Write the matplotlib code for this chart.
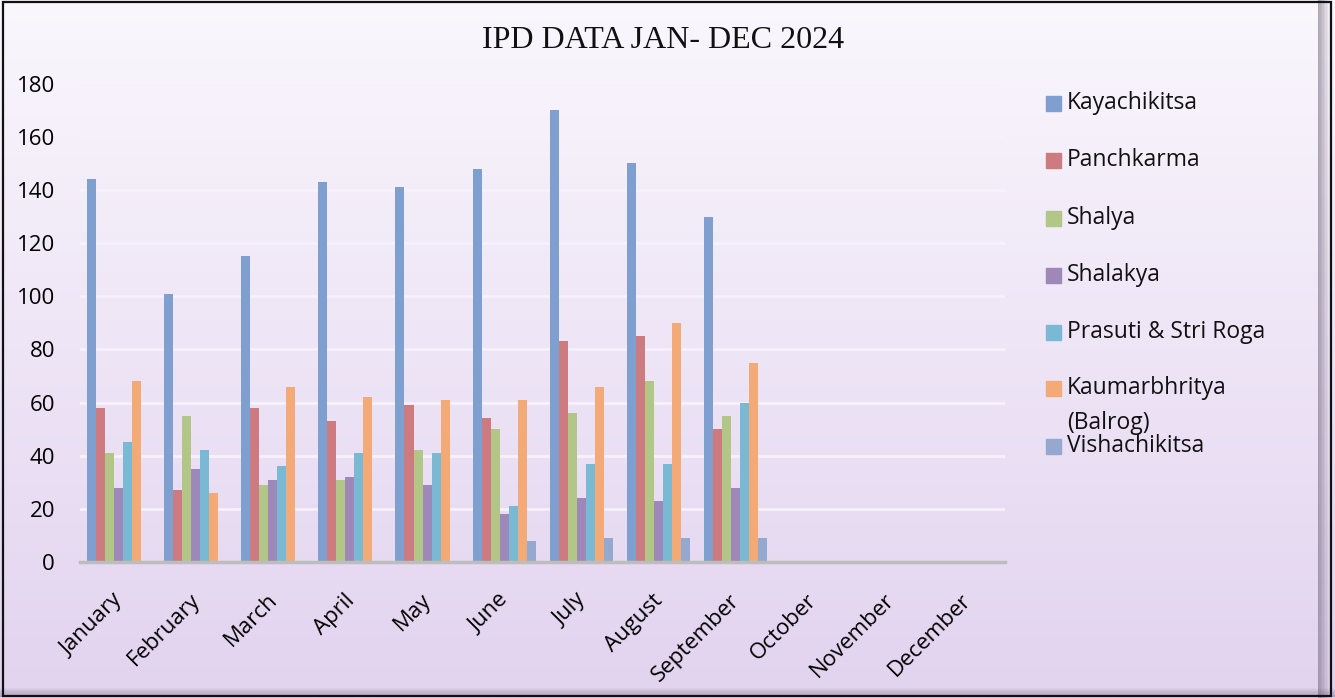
import matplotlib
matplotlib.use('Agg')
import matplotlib.pyplot as plt
import matplotlib.transforms as mtrans
import numpy as np
from matplotlib.patches import Rectangle
from matplotlib.colors import LinearSegmentedColormap

# dados IPD jan-dez 2024 (outubro a dezembro ainda sem dados)
meses = ['January', 'February', 'March', 'April', 'May', 'June', 'July',
         'August', 'September', 'October', 'November', 'December']
kayachikitsa = [144, 101, 115, 143, 141, 148, 170, 150, 130, 0, 0, 0]
panchkarma = [58, 27, 58, 53, 59, 54, 83, 85, 50, 0, 0, 0]
shalya = [41, 55, 29, 31, 42, 50, 56, 68, 55, 0, 0, 0]
shalakya = [28, 35, 31, 32, 29, 18, 24, 23, 28, 0, 0, 0]
prasuti = [45, 42, 36, 41, 41, 21, 37, 37, 60, 0, 0, 0]
kaumar = [68, 26, 66, 62, 61, 61, 66, 90, 75, 0, 0, 0]
vishachikitsa = [0, 0, 0, 0, 0, 8, 9, 9, 9, 0, 0, 0]

series = [kayachikitsa, panchkarma, shalya, shalakya, prasuti, kaumar, vishachikitsa]
nomes = ['Kayachikitsa', 'Panchkarma', 'Shalya', 'Shalakya', 'Prasuti & Stri Roga',
         'Kaumarbhritya', 'Vishachikitsa']
cores = ['#7f9fd0', '#cd7a80', '#b2c687', '#9e87b9', '#79b9d3', '#f3aa76', '#94a8d0']

fig = plt.figure(figsize=(13.35, 6.98), dpi=100)

# fundo em degradê (branco -> lilás)
bg = fig.add_axes([0, 0, 1, 1], zorder=0)
grad = np.linspace(0, 1, 256).reshape(-1, 1)
cmap_bg = LinearSegmentedColormap.from_list('bg', ['#faf7fd', '#e2d3ef'])
bg.imshow(grad, aspect='auto', cmap=cmap_bg, extent=[0, 1, 0, 1], origin='upper')
bg.set_xlim(0, 1)
bg.set_ylim(0, 1)
bg.axis('off')
# sombra interna na direita e embaixo
for k in range(8):
    a = 0.06 * (k + 1)
    bg.add_patch(Rectangle((0.996 - (k + 1) * 0.0011, 0.0), 0.0011, 1.0,
                           color='#5a4f66', alpha=a, lw=0))
    bg.add_patch(Rectangle((0.0, (8 - k) * 0.0016), 1.0, 0.0016,
                           color='#5a4f66', alpha=a * 0.8, lw=0))
bg.add_patch(Rectangle((0.0025, 0.003), 0.9945, 0.994, fill=False, edgecolor='#111111', lw=1.6))

ax = fig.add_axes([0.06, 0.195, 0.693, 0.685], zorder=1)
ax.patch.set_alpha(0)

x = np.arange(len(meses))
largura = 0.117
for i, (vals, cor) in enumerate(zip(series, cores)):
    ax.bar(x + (i - 3) * largura, vals, largura, color=cor, edgecolor='none', zorder=2)

ax.set_xlim(-0.5, 11.5)
ax.set_ylim(0, 180)
ax.set_yticks(range(0, 181, 20))
ax.grid(axis='y', color='#f6f1fa', lw=2, zorder=0)
for s in ['top', 'right', 'left']:
    ax.spines[s].set_visible(False)
ax.spines['bottom'].set_color('#bdbdbd')
ax.spines['bottom'].set_linewidth(2.5)
ax.tick_params(length=0)
ax.tick_params(axis='y', pad=18)
ax.tick_params(axis='x', pad=20)
ax.set_xticks(x)
ax.set_xticklabels(meses, rotation=45, ha='right', rotation_mode='anchor')
desloc = mtrans.ScaledTranslation(-6 / 100, 0, fig.dpi_scale_trans)
for lbl in ax.get_xticklabels():
    lbl.set_transform(lbl.get_transform() + desloc)
for lbl in ax.get_xticklabels() + ax.get_yticklabels():
    lbl.set_fontfamily('Open Sans')
    lbl.set_fontsize(16)
    lbl.set_color('black')

fig.text(0.497, 0.942, 'IPD DATA JAN- DEC 2024', ha='center', va='center',
         fontfamily='Liberation Serif', fontsize=23, color='#111111')

# legenda manual (a entrada Kaumarbhritya quebra em duas linhas)
ys = [103, 160, 218, 275, 332, 388, 446]
for nome, cor, yp in zip(nomes, cores, ys):
    yf = 1 - yp / 698
    fig.patches.append(Rectangle((1046 / 1335, yf - 7.5 / 698), 15 / 1335, 15 / 698,
                                 transform=fig.transFigure, color=cor, figure=fig))
    fig.text(1067 / 1335, yf, nome, va='center', ha='left', fontfamily='Open Sans',
             fontsize=16.5, color='#111111')
fig.text(1067 / 1335, 1 - 423 / 698, '(Balrog)', va='center', ha='left',
         fontfamily='Open Sans', fontsize=16.5, color='#111111')

fig.savefig('out.png', dpi=100)
